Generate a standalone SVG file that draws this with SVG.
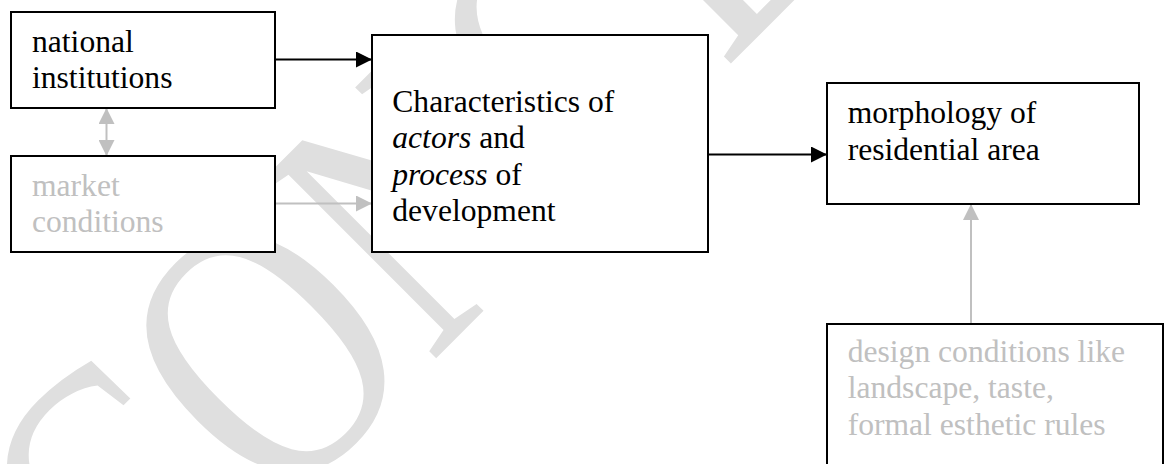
<svg xmlns="http://www.w3.org/2000/svg" width="1164" height="464" viewBox="0 0 1164 464">
<style>
.box{fill:#ffffff;stroke:#000000;stroke-width:2}
.t{font-size:31.6px;fill:#000000}
.g{fill:#c0c0c0}
.wm{font-size:300px;fill:#dfdfdf}
.cb{stroke:#000000;stroke-width:2;fill:none}
.cg{stroke:#c0c0c0;stroke-width:2;fill:none}
</style>
<defs>
<marker id="ab" markerUnits="userSpaceOnUse" markerWidth="16" markerHeight="16" viewBox="0 0 15 15" refX="15" refY="7.5" orient="auto"><path d="M0,0 L15,7.5 L0,15 z" fill="#000000"/></marker>
<marker id="ag" markerUnits="userSpaceOnUse" markerWidth="16" markerHeight="16" viewBox="0 0 15 15" refX="15" refY="7.5" orient="auto-start-reverse"><path d="M0,0 L15,7.5 L0,15 z" fill="#c0c0c0"/></marker>
</defs>
<rect width="1164" height="464" fill="#ffffff"/>
<g font-family="'Liberation Serif', Tinos, 'DejaVu Serif', serif">
<text class="wm" transform="translate(135.4,659) rotate(-45) scale(1,1.2667)">CONCEPT</text>
<g id="connectors">
<line class="cb" x1="275" y1="59.5" x2="372" y2="59.5" marker-end="url(#ab)"/>
<line class="cg" x1="275" y1="203.5" x2="372" y2="203.5" marker-end="url(#ag)"/>
<line class="cg" x1="106.5" y1="108" x2="106.5" y2="156" marker-start="url(#ag)" marker-end="url(#ag)"/>
<line class="cb" x1="708" y1="154.5" x2="827" y2="154.5" marker-end="url(#ab)"/>
<line class="cg" x1="971" y1="324" x2="971" y2="204" marker-end="url(#ag)"/>
</g>
<g id="national">
<rect class="box" x="11" y="12" width="264" height="96"/>
<text class="t" x="32" y="51.7">national</text>
<text class="t" x="32" y="87.5">institutions</text>
</g>
<g id="market">
<rect class="box" x="11" y="156" width="264" height="96"/>
<text class="t g" x="32" y="196">market</text>
<text class="t g" x="32" y="232.3">conditions</text>
</g>
<g id="characteristics">
<rect class="box" x="372" y="35" width="336" height="217"/>
<text class="t" x="392.3" y="112">Characteristics of</text>
<text class="t" x="392.3" y="148.3"><tspan font-style="italic">actors</tspan> and</text>
<text class="t" x="392.3" y="184.6"><tspan font-style="italic">process</tspan> of</text>
<text class="t" x="392.3" y="220.9">development</text>
</g>
<g id="morphology">
<rect class="box" x="827" y="83" width="312" height="121"/>
<text class="t" x="847.7" y="123.3">morphology of</text>
<text class="t" x="847.7" y="159.6">residential area</text>
</g>
<g id="design">
<rect class="box" x="827" y="324" width="336" height="150"/>
<text class="t g" x="847.7" y="362">design conditions like</text>
<text class="t g" x="847.7" y="398.3">landscape, taste,</text>
<text class="t g" x="847.7" y="434.6">formal esthetic rules</text>
</g>
</g>
</svg>
